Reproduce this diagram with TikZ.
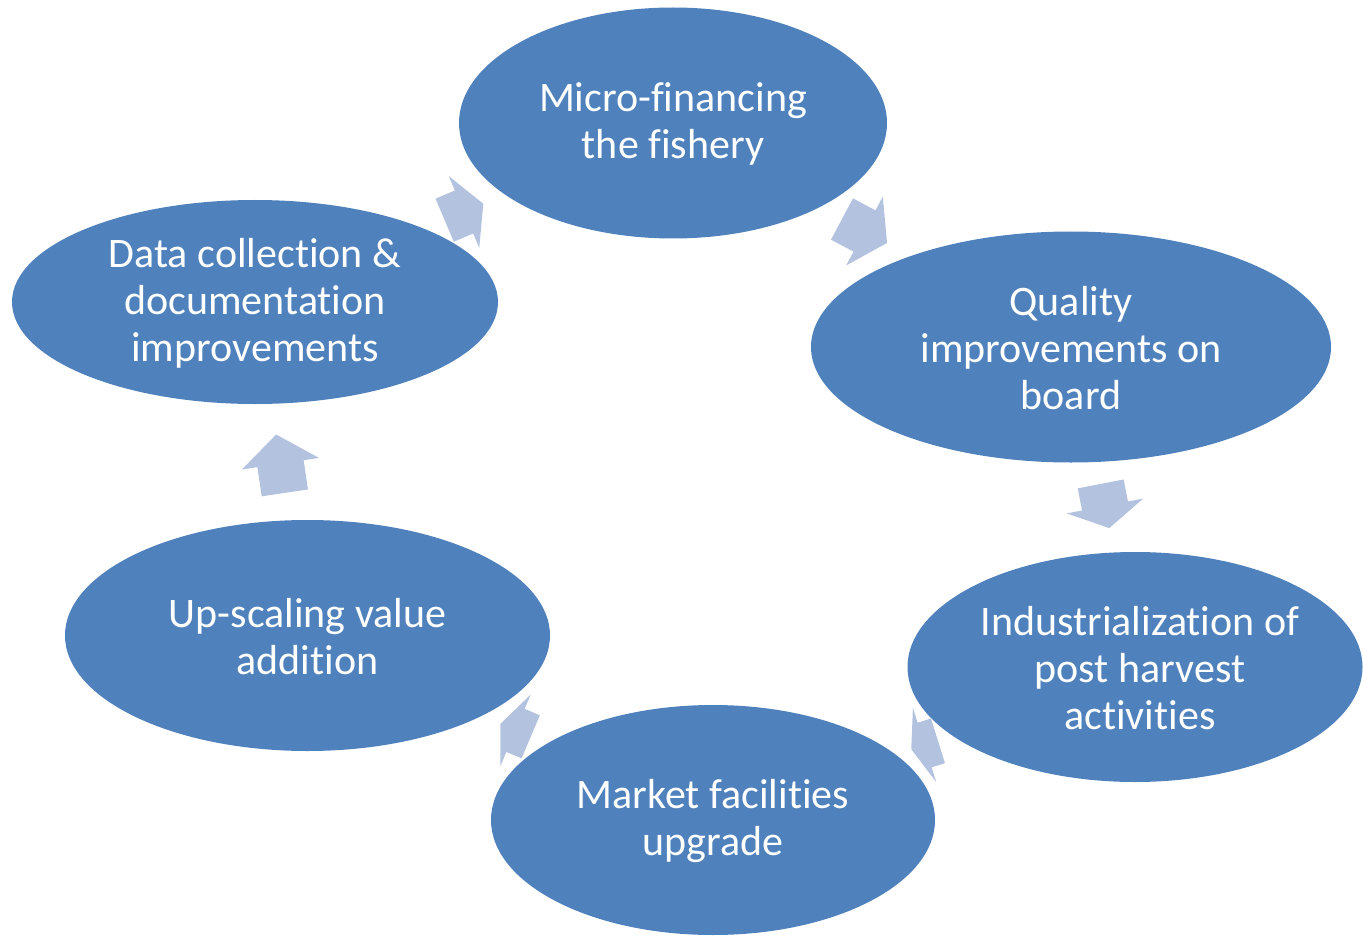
\documentclass[tikz,border=0pt]{standalone}
\usepackage{fontspec}
\setmainfont{Carlito}[Ligatures=NoCommon]
\usetikzlibrary{shapes.geometric}
\definecolor{ellfill}{HTML}{4F81BD}
\definecolor{arrfill}{HTML}{B3C3DF}
\tikzset{
  cyc/.style={ellipse, fill=ellfill, draw=none, inner sep=0pt},
  lbl/.style={text=white, align=center, inner sep=0pt, font=\fontsize{42}{47}\selectfont},
  arrowfill/.style={fill=arrfill, draw=none}
}
% name, x, y (pixels, down), angle, length
\newcommand\blockarrow[5]{%
  \coordinate (#1) at (#2,-#3);
  \begin{scope}[shift={(#1)}, rotate=#4]
    \fill[arrowfill] (-#5/2,-23.4) -- (0,-23.4) -- (0,-39) -- (#5/2,0)
      -- (0,39) -- (0,23.4) -- (-#5/2,23.4) -- cycle;
  \end{scope}}
\begin{document}
\begin{tikzpicture}[x=1pt,y=1pt]
\useasboundingbox (0,0) rectangle (1363,-936);
\node[cyc, minimum width=428, minimum height=231] (e1) at (673,-123) {};
\node[cyc, minimum width=520, minimum height=231] (e2) at (1071,-347) {};
\node[cyc, minimum width=455, minimum height=230] (e3) at (1135,-667) {};
\node[cyc, minimum width=444, minimum height=230] (e4) at (713,-820) {};
\node[cyc, minimum width=485, minimum height=231] (e5) at (307.5,-635.5) {};
\node[cyc, minimum width=486, minimum height=204] (e6) at (255,-302) {};
\node[lbl] (t1) at ([yshift=-1pt]e1.center) {Micro-financing\\the fishery};
\node[lbl] (t2) at ([yshift=-1pt]e2.center) {Quality\\improvements on\\board};
\node[lbl] (t3) at ([xshift=5pt,yshift=-1pt]e3.center) {Industrialization of\\post harvest\\activities};
\node[lbl] (t4) at ([yshift=-1pt]e4.center) {Market facilities\\upgrade};
\node[lbl] (t5) at ([yshift=-1pt]e5.center) {Up-scaling value\\addition};
\node[lbl] (t6) at ([yshift=-1pt]e6.center) {Data collection \&\\documentation\\improvements};
\blockarrow{a1}{464}{212}{23}{42}
\blockarrow{a2}{864.5}{231}{-28}{51}
\blockarrow{a3}{1105}{506}{-79}{45}
\blockarrow{a4}{924.6}{745}{197.4}{28}
\blockarrow{a5}{515.5}{730.4}{157}{33}
\blockarrow{a6}{280.5}{463.7}{98.5}{59}
\end{tikzpicture}
\end{document}
